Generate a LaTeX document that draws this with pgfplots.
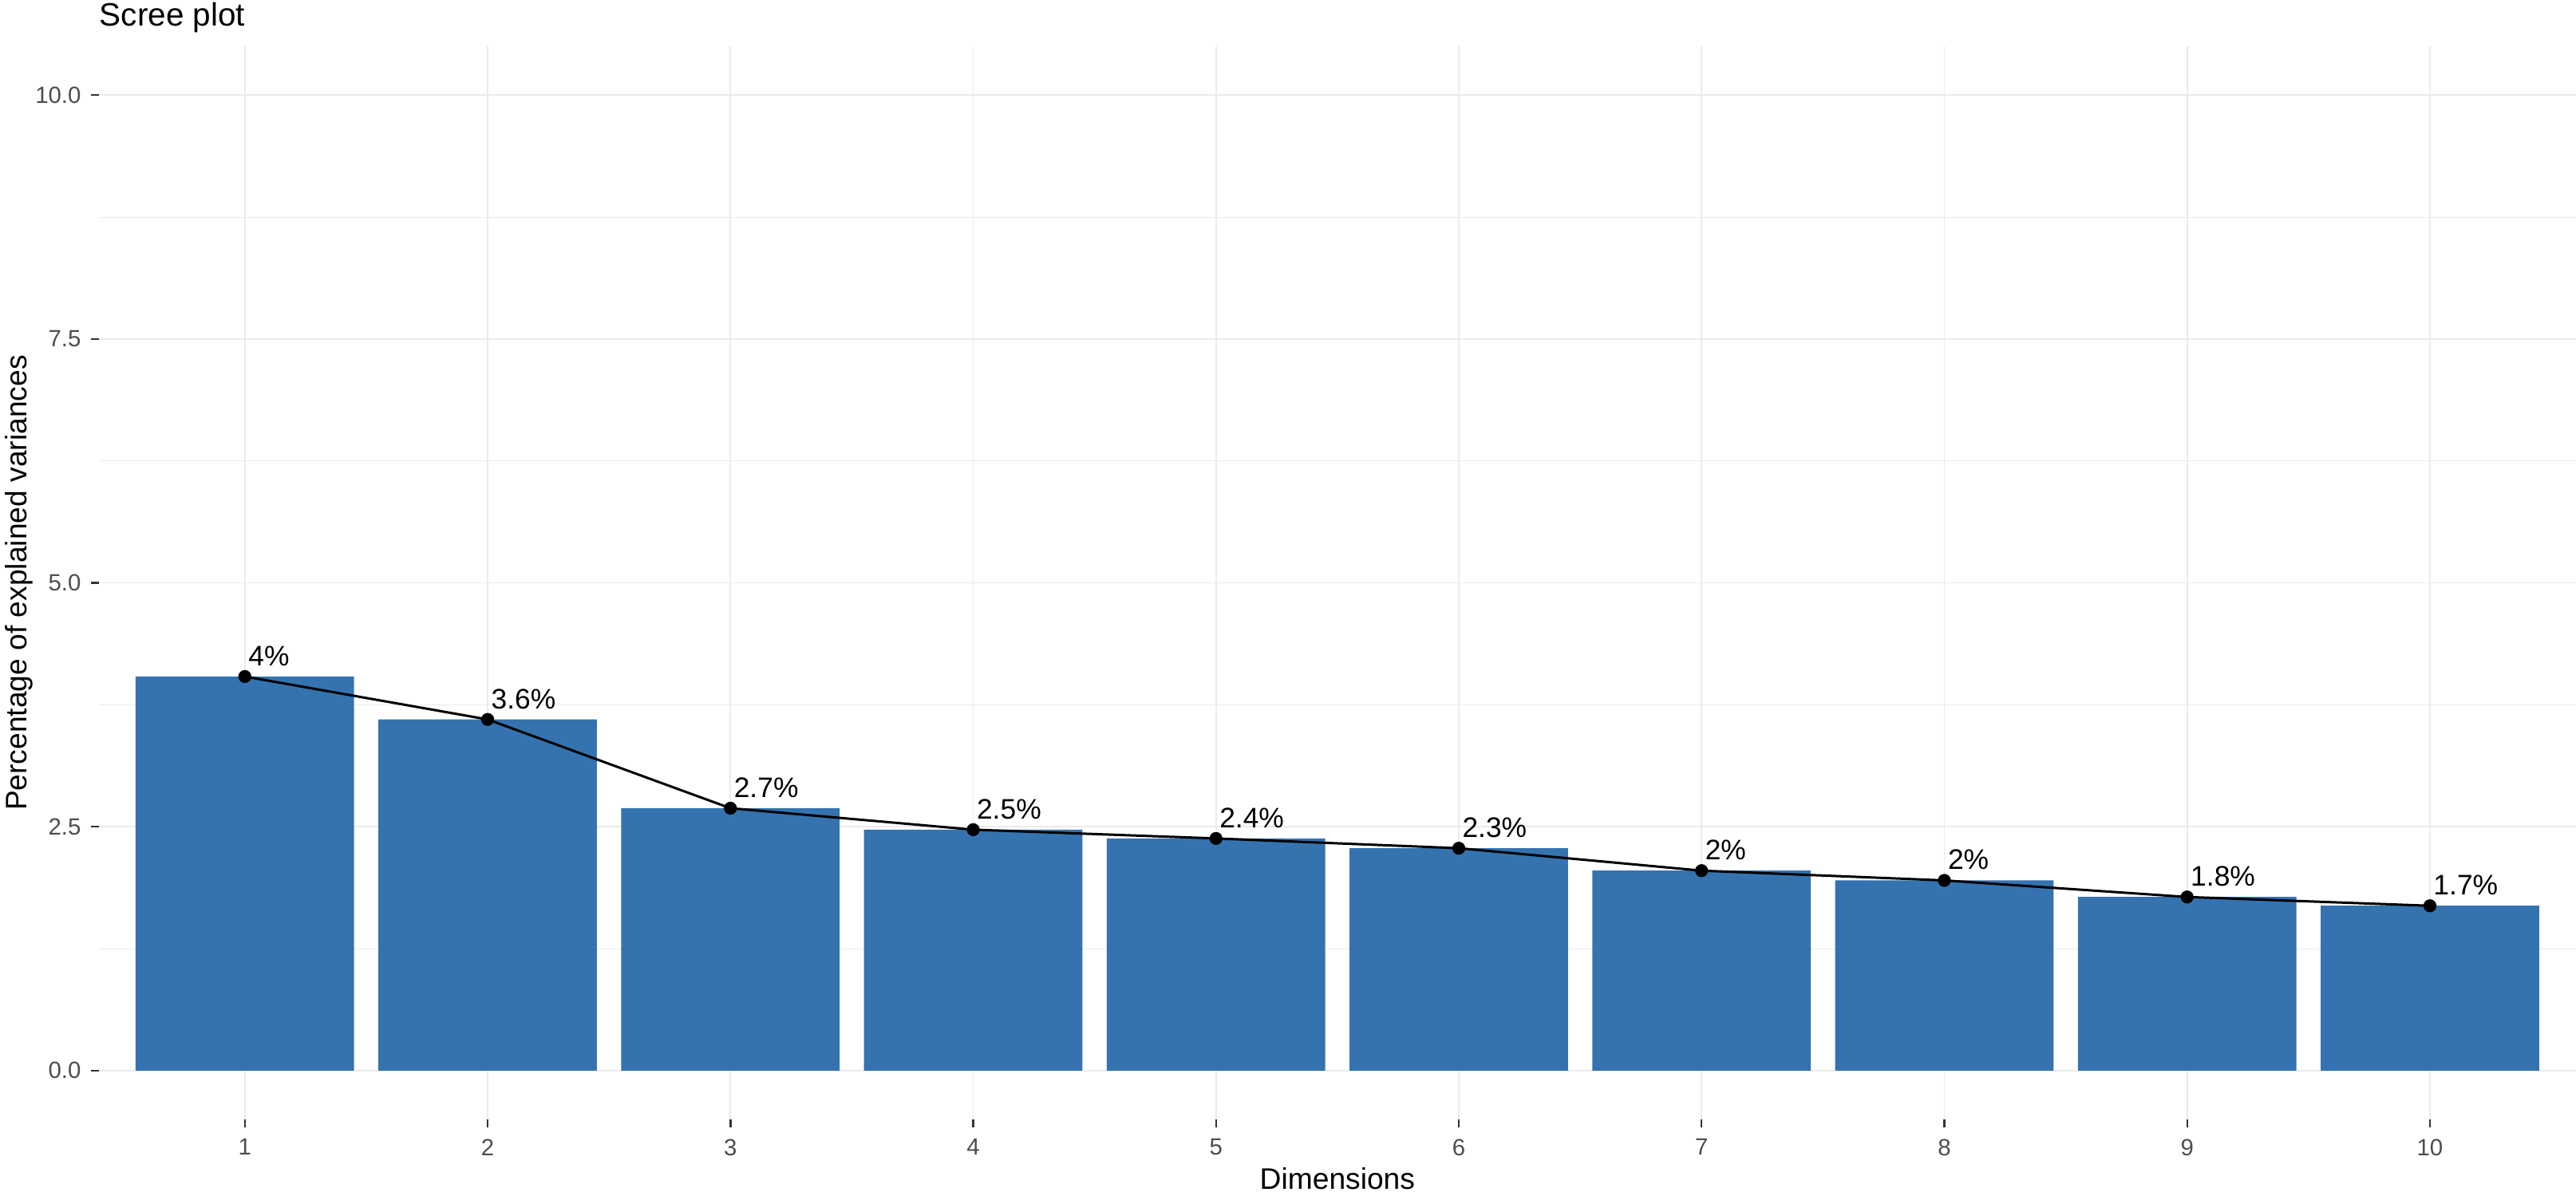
\documentclass[border=0pt]{standalone}
\usepackage{fontspec}
\setmainfont{Liberation Sans}
\usepackage{pgfplots}
\pgfplotsset{compat=1.18}
\definecolor{barblue}{HTML}{3473AF}
\definecolor{gridgrey}{HTML}{EBEBEB}
\definecolor{ticklab}{HTML}{4D4D4D}
\definecolor{tickcol}{HTML}{333333}
\begin{document}
\begin{tikzpicture}
\path[use as bounding box] (0,0) rectangle (1076pt,497.67pt);
\begin{axis}[
  at={(41.43pt,30pt)}, anchor=south west,
  scale only axis, width=1034.4pt, height=448.3pt,
  xmin=0.4, xmax=10.6, ymin=-0.5, ymax=10.5,
  xtick={1,...,10},
  ytick={0,2.5,5,7.5,10},
  minor ytick={1.25,3.75,6.25,8.75},
  minor tick length=0pt,
  axis line style={draw=none},
  tick pos=left, tick align=outside,
  major tick length=3.3pt,
  tick style={tickcol, line width=0.8pt},
  xmajorgrids, ymajorgrids, yminorgrids,
  major grid style={gridgrey, line width=0.6pt},
  minor grid style={gridgrey, line width=0.3pt},
  /pgf/number format/assume math mode=true,
  yticklabel={\pgfmathprintnumber[fixed, fixed zerofill, precision=1]{\tick}},
  xticklabel={\pgfmathprintnumber{\tick}},
  xticklabel style={font=\fontsize{9.8}{10}\selectfont, text=ticklab, anchor=north, inner sep=0pt, yshift=-4.7pt},
  yticklabel style={font=\fontsize{9.8}{10}\selectfont, text=ticklab, anchor=east, inner sep=0pt, xshift=-4.1pt},
  title={Scree plot},
  every axis title/.style={at={(axis description cs:0,1)}, anchor=base west, inner sep=0pt, yshift=8.4pt, font=\fontsize{13.5}{14}\selectfont},
  xlabel={Dimensions},
  ylabel={Percentage of explained variances},
  every axis x label/.style={at={(axis description cs:0.5,0)}, anchor=base, inner sep=0pt, yshift=-29pt, font=\fontsize{12.4}{13}\selectfont},
  every axis y label/.style={at={([xshift=-30.4pt]axis description cs:0,0.5)}, rotate=90, anchor=base, inner sep=0pt, font=\fontsize{12.4}{13}\selectfont},
  clip=false,
]
\addplot[ybar, bar width=0.9, fill=barblue, draw=none] coordinates {
  (1,4.04) (2,3.60) (3,2.69) (4,2.47) (5,2.38)
  (6,2.28) (7,2.05) (8,1.95) (9,1.78) (10,1.69)
};
\addplot[black, line width=1pt, mark=*, mark size=2.2pt,
  point meta=explicit symbolic,
  nodes near coords,
  every node near coord/.style={anchor=base west, inner sep=0pt, xshift=1pt, yshift=4.5pt, font=\fontsize{11.8}{12}\selectfont, text=black}
] coordinates {
  (1,4.04) [4\%]
  (2,3.60) [3.6\%]
  (3,2.69) [2.7\%]
  (4,2.47) [2.5\%]
  (5,2.38) [2.4\%]
  (6,2.28) [2.3\%]
  (7,2.05) [2\%]
  (8,1.95) [2\%]
  (9,1.78) [1.8\%]
  (10,1.69) [1.7\%]
};
\end{axis}
\end{tikzpicture}
\end{document}
